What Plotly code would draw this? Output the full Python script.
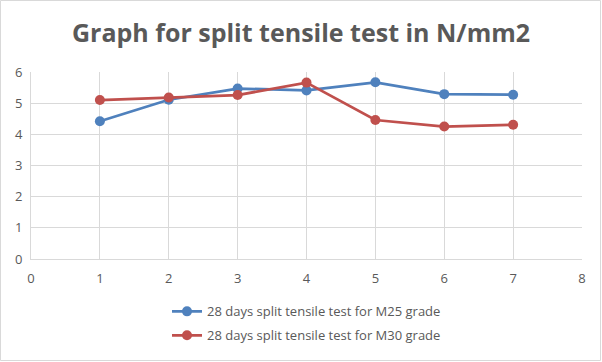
import plotly.graph_objects as go

x_vals = [1, 2, 3, 4, 5, 6, 7]
m25 = [4.42, 5.11, 5.47, 5.41, 5.67, 5.29, 5.27]
m30 = [5.10, 5.18, 5.26, 5.66, 4.46, 4.25, 4.31]
names = ["28 days split tensile test for M25 grade", "28 days split tensile test for M30 grade"]
colors = ["#4F81BD", "#C0504D"]

W, H = 602, 362
L, R, T, B = 31, 20, 72, 103

fig = go.Figure()
for i, (ys, name, c) in enumerate(zip([m25, m30], names, colors)):
    fig.add_trace(go.Scatter(
        x=x_vals, y=ys, name=name, mode="lines+markers",
        line=dict(color=c, width=2.75),
        marker=dict(color=c, size=10),
        legendgroup=f"g{i}",
    ))

pw = W - L - R
ph = H - T - B
fig.add_shape(type="rect", xref="paper", yref="paper",
              x0=-(L - 0.5) / pw, x1=1 + (R - 1.5) / pw,
              y0=-(B - 1.5) / ph, y1=1 + (T - 0.5) / ph,
              line=dict(color="#D9D9D9", width=1), layer="below")

fig.update_layout(
    width=W, height=H,
    margin=dict(l=L, r=R, t=T, b=B, autoexpand=False),
    paper_bgcolor="white", plot_bgcolor="white",
    font=dict(family="Open Sans", color="#595959", size=13),
    title=dict(text="<b>Graph for split tensile test in N/mm2</b>",
               x=0.5, xanchor="center", xref="container", y=1 - 33 / H, yanchor="middle",
               font=dict(size=25, color="#595959", family="Open Sans")),
    xaxis=dict(range=[0, 8], dtick=1, showgrid=True, gridcolor="#D9D9D9",
               showline=True, linecolor="#D9D9D9", zeroline=False,
               ticklabelstandoff=7,
               tickfont=dict(size=13, color="#595959"), fixedrange=True),
    yaxis=dict(range=[0, 6], dtick=1, showgrid=True, gridcolor="#D9D9D9",
               showline=True, linecolor="#D9D9D9", zeroline=False,
               ticklabelstandoff=5,
               tickfont=dict(size=13, color="#595959"), fixedrange=True),
    legend=dict(orientation="v", x=0.5, xanchor="center", y=-0.2, yanchor="top",
                font=dict(size=13, color="#595959"), tracegroupgap=4,
                bgcolor="rgba(0,0,0,0)"),
    showlegend=True,
)

fig.write_html("out.html", config={"displayModeBar": False},
               post_script="document.body.style.margin='0px';")
